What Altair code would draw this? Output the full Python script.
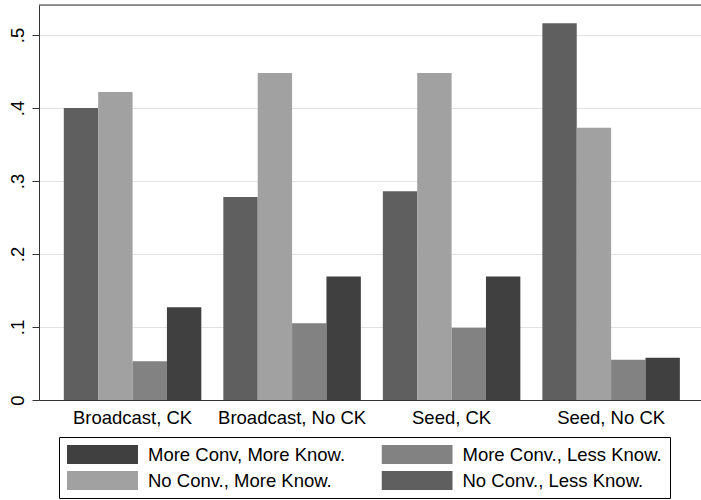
import altair as alt
import pandas as pd

# ---- data ----
groups = ["Broadcast, CK", "Broadcast, No CK", "Seed, CK", "Seed, No CK"]
series = ["More Conv, More Know.", "More Conv., Less Know.",
          "No Conv., More Know.", "No Conv., Less Know."]
series_colors = ["#404040", "#828282", "#a1a1a1", "#5f5f5f"]
bar_order = ["No Conv., Less Know.", "No Conv., More Know.",
             "More Conv., Less Know.", "More Conv, More Know."]

no_conv_less = [0.400, 0.278, 0.286, 0.516]
no_conv_more = [0.422, 0.448, 0.448, 0.373]
more_conv_less = [0.053, 0.105, 0.099, 0.055]
more_conv_more = [0.127, 0.169, 0.169, 0.058]

y_tick_values = [0, 0.1, 0.2, 0.3, 0.4, 0.5]
y_tick_labels = ["0", ".1", ".2", ".3", ".4", ".5"]
y_max = 0.541

# ---- table ----
series_values = {
    "No Conv., Less Know.": no_conv_less,
    "No Conv., More Know.": no_conv_more,
    "More Conv., Less Know.": more_conv_less,
    "More Conv, More Know.": more_conv_more,
}
rows = []
for i, g in enumerate(groups):
    for name in bar_order:
        rows.append({"group": g, "series": name, "value": series_values[name][i]})
df = pd.DataFrame(rows)

label_expr = "''"
for v, lab in reversed(list(zip(y_tick_values, y_tick_labels))):
    label_expr = f"abs(datum.value - {v}) < 1e-6 ? '{lab}' : ({label_expr})"

FONT = "Liberation Sans"
FS = 18.5

bars = alt.Chart(df).mark_bar().encode(
    x=alt.X("group:N", sort=groups, title=None,
            scale=alt.Scale(paddingInner=0.138, paddingOuter=0.144, align=0.54),
            axis=alt.Axis(labelAngle=0, ticks=False, domainColor="#333333",
                          labelFontSize=FS, labelColor="black", labelPadding=8,
                          labelFont=FONT, grid=False, labelLimit=400)),
    xOffset=alt.XOffset("series:N", sort=bar_order),
    y=alt.Y("value:Q", title=None,
            scale=alt.Scale(domain=[0, y_max], nice=False, zero=True),
            axis=alt.Axis(values=y_tick_values, labelExpr=label_expr,
                          labelAngle=270, labelAlign="center",
                          labelBaseline="alphabetic", labelPadding=9,
                          tickSize=7, tickColor="#333333", domainColor="#333333",
                          gridColor="#e2e2e2", labelFontSize=FS,
                          labelColor="black", labelFont=FONT)),
    color=alt.Color("series:N", sort=series,
                    scale=alt.Scale(domain=series, range=series_colors),
                    legend=alt.Legend(
                        title=None, orient="none", legendX=20, legendY=432,
                        direction="horizontal",
                        columns=2, columnPadding=35.5, rowPadding=7,
                        symbolType="M-1,-0.2676H1V0.2676H-1Z",
                        symbolSize=5041, symbolStrokeWidth=0, clipHeight=19,
                        symbolOpacity=1,
                        labelFontSize=FS, labelFont=FONT, labelColor="black",
                        labelOffset=10, labelLimit=400,
                        padding=8, strokeColor="black", fillColor="white")),
)

frame_top = alt.Chart(pd.DataFrame({"edge": [0]})).mark_rule(
    color="#333333", strokeWidth=1.2
).encode(y=alt.value(0))

chart = alt.layer(bars, frame_top).properties(
    width=662, height=395,
    padding={"left": 39, "top": 5, "right": 0, "bottom": 100},
    autosize="none",
    background="white",
).configure_view(strokeWidth=0).configure(font=FONT)

chart.save("out.html", embed_options={"renderer": "svg", "actions": False})
